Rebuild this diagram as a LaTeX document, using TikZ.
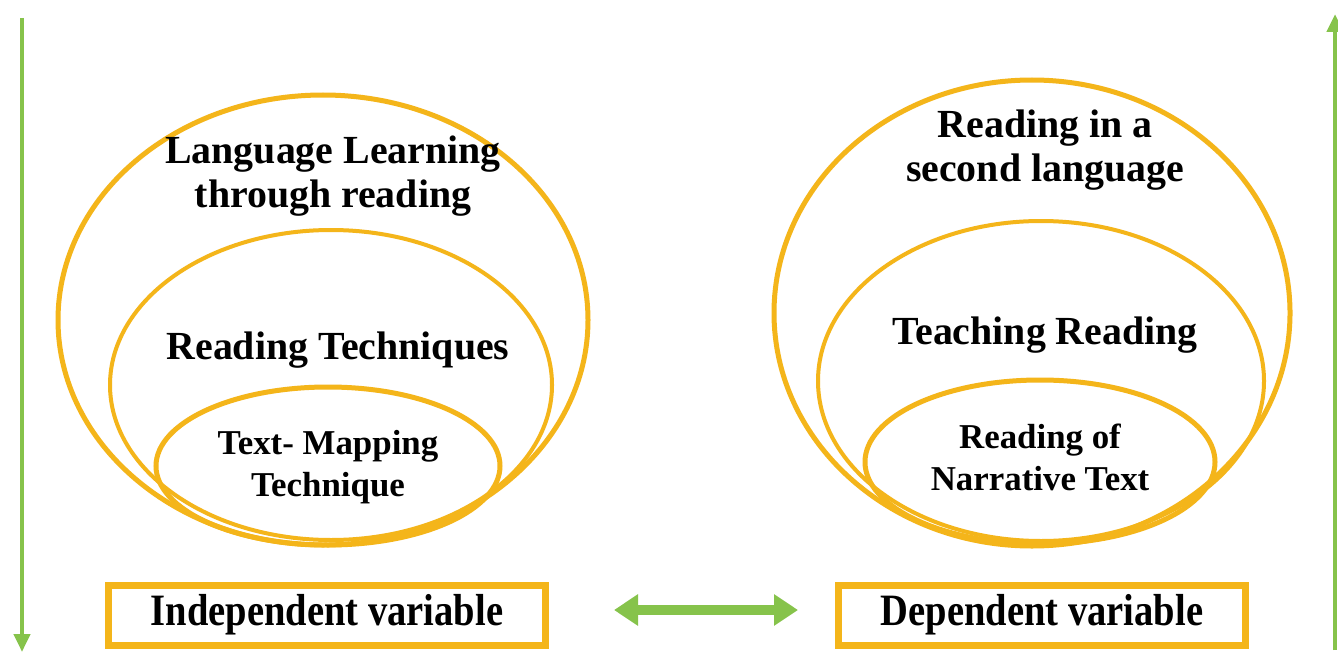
\documentclass[tikz,border=0pt]{standalone}
\usepackage{fontspec}
\usepackage{graphicx}
\setmainfont{Liberation Serif}
\usetikzlibrary{arrows.meta}
\definecolor{ringgold}{HTML}{F4B51A}
\definecolor{arrowgreen}{HTML}{86C34B}
\newcommand{\narrowtext}[1]{\scalebox{0.86}[1]{#1}}
\begin{document}
\begin{tikzpicture}[x=1bp,y=-1bp,
  ring/.style={draw=ringgold,line width=5bp},
  label/.style={font=\fontsize{40}{44}\selectfont\bfseries,inner sep=0pt,align=center},
  smalllabel/.style={font=\fontsize{35}{42}\selectfont\bfseries,inner sep=0pt,align=center},
  varbox/.style={draw=ringgold,line width=7bp,font=\fontsize{45}{48}\selectfont\bfseries,
    minimum height=60bp,inner sep=0pt},
  flow/.style={draw=arrowgreen,line width=4.5bp,-{Triangle[length=18bp,width=16bp]}},
  link/.style={draw=arrowgreen,line width=10bp,{Triangle[length=24bp,width=30bp]}-{Triangle[length=24bp,width=30bp]}}]
\useasboundingbox[fill=white] (0,0) rectangle (1338,655);

% left nest of rings
\draw[ring] (323,320) ellipse [x radius=265, y radius=225];
\draw[ring,line width=4bp] (331,385) ellipse [x radius=221, y radius=155];
\draw[ring] (328,466) ellipse [x radius=172, y radius=79];

% right nest of rings
\draw[ring] (1032,313) ellipse [x radius=258, y radius=233];
\draw[ring,line width=4bp] (1041,381) ellipse [x radius=223, y radius=160];
\draw[ring] (1040,462) ellipse [x radius=175, y radius=82];

% ring labels
\node[label] (ll) at (333,176) {Language Learning\\through reading};
\node[label] (rt) at (338,350) {Reading Techniques};
\node[smalllabel] (tm) at (328,467) {Text- Mapping\\Technique};

\node[label] (rs) at (1045,150) {Reading in a\\second language};
\node[label] (tr) at (1045,335) {Teaching Reading};
\node[smalllabel] (rn) at (1040,457) {Reading of\\Narrative Text};

% variable boxes
\node[varbox,minimum width=437bp] (iv) at (327,615) {\narrowtext{Independent variable}};
\node[varbox,minimum width=407bp] (dv) at (1042,615) {\narrowtext{Dependent variable}};

% arrows
\coordinate (ltop) at (22,18);
\coordinate (lbot) at (22,652);
\coordinate (rbot) at (1335,650);
\coordinate (rtop) at (1335,14);
\draw[flow] (ltop) -- (lbot);
\draw[flow] (rbot) -- (rtop);
\coordinate (la) at (614,610);
\coordinate (ra) at (798,610);
\draw[link] (la) -- (ra);
\end{tikzpicture}
\end{document}
